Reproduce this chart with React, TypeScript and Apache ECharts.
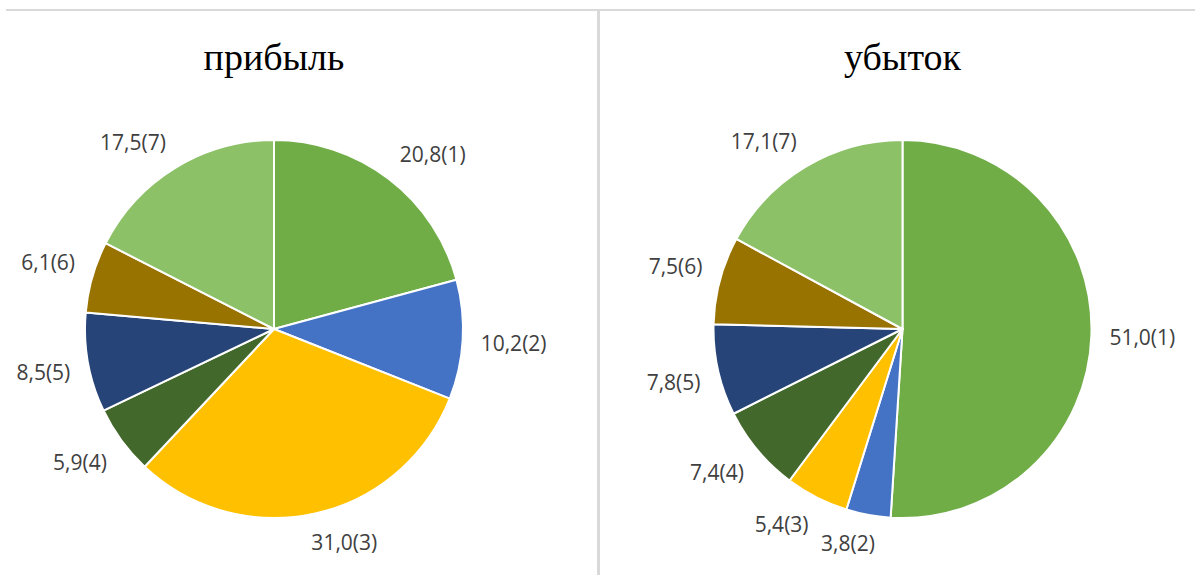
import React, { useEffect, useRef } from 'react';
import * as echarts from 'echarts';

const categories = ['1', '2', '3', '4', '5', '6', '7'];
const profitValues = [20.8, 10.2, 31.0, 5.9, 8.5, 6.1, 17.5];
const lossValues = [51.0, 3.8, 5.4, 7.4, 7.8, 7.5, 17.1];
const titles = ['прибыль', 'убыток'];
const sliceColors = ['#70AD47', '#4472C4', '#FFC000', '#43682B', '#264478', '#997300', '#8CC168'];

const W = 1195;
const H = 575;
const R = 189;
const CY = 329;
const CX = [274, 902.5];
const GAP = 18;

const fmt = (v: number, i: number) => v.toFixed(1).replace('.', ',') + '(' + categories[i] + ')';

const makeLayout = (values: number[], cx: number, cy: number) => (p: any) => {
  const total = values.reduce((a, b) => a + b, 0);
  let before = 0;
  for (let i = 0; i < p.dataIndex; i++) before += values[i];
  const mid = ((before + values[p.dataIndex] / 2) / total) * 2 * Math.PI;
  const ux = Math.sin(mid);
  const uy = -Math.cos(mid);
  const w = p.labelRect.width;
  const h = p.labelRect.height;
  const d = R + GAP;
  const clamp = (v: number) => Math.max(-1, Math.min(1, v));
  return {
    x: cx + ux * d + (clamp(ux * 3.5) * w) / 2,
    y: cy + uy * d + (clamp(uy * 3.5) * h) / 2,
    align: 'center',
    verticalAlign: 'middle',
  };
};

const makeSeries = (values: number[], idx: number) => ({
  type: 'pie',
  center: [CX[idx], CY],
  radius: [0, R],
  startAngle: 90,
  clockwise: true,
  avoidLabelOverlap: false,
  silent: true,
  data: values.map((v, i) => ({ name: categories[i], value: v, itemStyle: { color: sliceColors[i] } })),
  itemStyle: { borderColor: '#ffffff', borderWidth: 2 },
  label: {
    show: true,
    position: 'outside',
    formatter: (p: any) => fmt(p.value, p.dataIndex),
    fontFamily: '"Open Sans", sans-serif',
    fontSize: 21,
    color: '#404040',
  },
  labelLine: { show: false, length: 10, length2: 0 },
  labelLayout: makeLayout(values, CX[idx], CY),
});

export default function App() {
  const ref = useRef<HTMLDivElement>(null);
  useEffect(() => {
    if (!ref.current) return;
    const chart = echarts.init(ref.current, null, { renderer: 'svg' });
    chart.setOption({
      animation: false,
      backgroundColor: '#ffffff',
      graphic: [
        { type: 'rect', shape: { x: 6, y: 9, width: W - 6, height: 2 }, style: { fill: '#D9D9D9' } },
        { type: 'rect', shape: { x: 597, y: 9, width: 3, height: H - 9 }, style: { fill: '#D9D9D9' } },
        ...titles.map((t, i) => ({
          type: 'text',
          x: CX[i],
          y: 57,
          style: {
            text: t,
            font: '38px "Liberation Serif", "Times New Roman", serif',
            fill: '#000000',
            align: 'center',
            verticalAlign: 'middle',
          },
        })),
      ],
      series: [makeSeries(profitValues, 0), makeSeries(lossValues, 1)],
    });
    return () => chart.dispose();
  }, []);
  return (
    <div
      ref={ref}
      style={{ position: 'fixed', left: 0, top: 0, width: W, height: H, background: '#fff' }}
    />
  );
}
